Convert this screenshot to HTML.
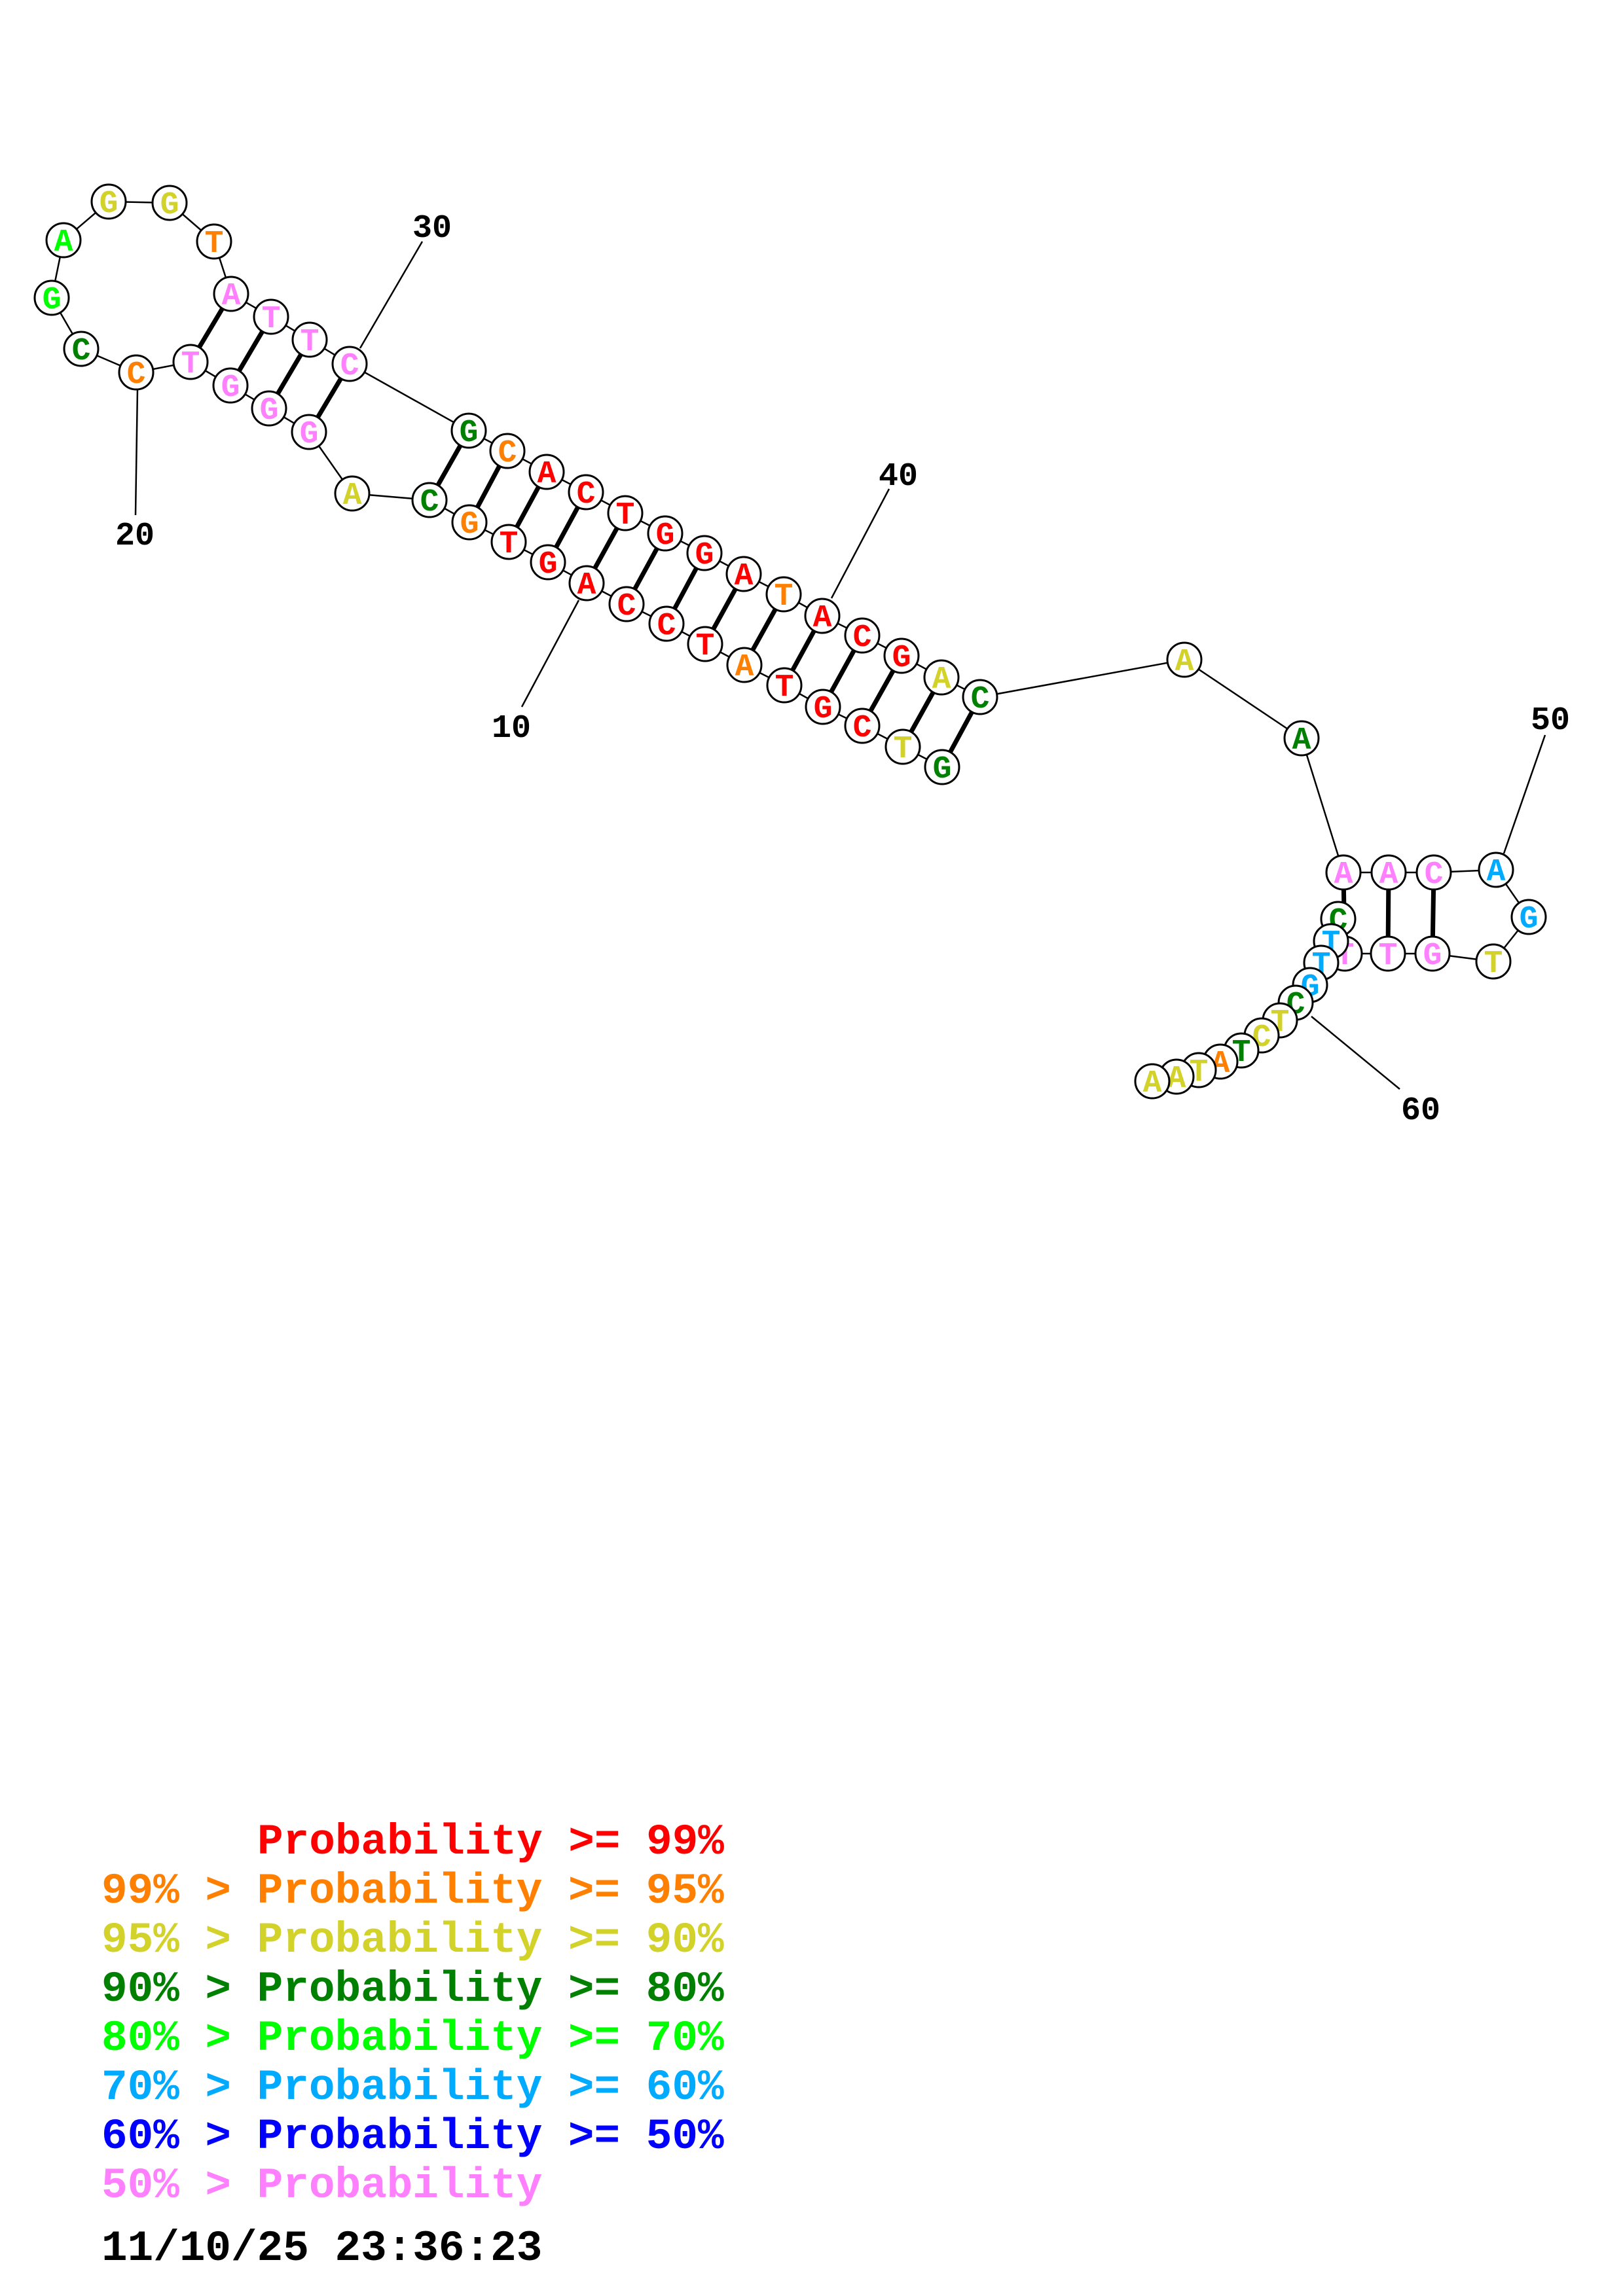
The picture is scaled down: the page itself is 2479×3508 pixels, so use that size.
<!DOCTYPE html>
<html><head><meta charset="utf-8"><style>html,body{margin:0;padding:0;background:#fff}svg{display:block}</style></head>
<body>
<svg xmlns="http://www.w3.org/2000/svg" width="2479" height="3508" viewBox="0 0 2479 3508">
<rect width="2479" height="3508" fill="#fff"/>
<g stroke="#000" stroke-width="2.5" fill="none">
<polyline points="1439,1172 1379,1141 1317,1109 1257,1080 1198,1047 1137,1016 1077,984 1018,953 957,923 896,891 837,859 777,828 717,798 656,764 538,754 472,660 411,624 352,589 291,553 208,569 124,533 79,455 97,367 166,308 259,310 327,369 353,449 414,484 473,519 534,556 716,658 775,689 835,721 895,752 955,784 1016,815 1076,845 1136,877 1197,908 1256,941 1317,971 1377,1002 1438,1035 1497,1065 1809,1008 1988,1128 2052,1333 2121,1333 2190,1333 2285,1329 2335,1401 2281,1469 2188,1457 2120,1457 2054,1457 2044,1404 2033,1438 2018,1471 2001,1505 1979,1532 1955,1559 1927,1582 1896,1605 1864,1622 1831,1635 1797,1645 1760,1652"/>
<line x1="550" y1="532" x2="645" y2="369"/>
<line x1="210" y1="594" x2="207" y2="787"/>
<line x1="884" y1="917" x2="797" y2="1080"/>
<line x1="1270" y1="914" x2="1358" y2="747"/>
<line x1="2297" y1="1304" x2="2360" y2="1123"/>
<line x1="2003" y1="1553" x2="2138" y2="1664"/>
</g>
<g stroke="#000" stroke-width="7">
<line x1="1439" y1="1172" x2="1497" y2="1065"/>
<line x1="1379" y1="1141" x2="1438" y2="1035"/>
<line x1="1317" y1="1109" x2="1377" y2="1002"/>
<line x1="1257" y1="1080" x2="1317" y2="971"/>
<line x1="1198" y1="1047" x2="1256" y2="941"/>
<line x1="1137" y1="1016" x2="1197" y2="908"/>
<line x1="1077" y1="984" x2="1136" y2="877"/>
<line x1="1018" y1="953" x2="1076" y2="845"/>
<line x1="957" y1="923" x2="1016" y2="815"/>
<line x1="896" y1="891" x2="955" y2="784"/>
<line x1="837" y1="859" x2="895" y2="752"/>
<line x1="777" y1="828" x2="835" y2="721"/>
<line x1="717" y1="798" x2="775" y2="689"/>
<line x1="656" y1="764" x2="716" y2="658"/>
<line x1="472" y1="660" x2="534" y2="556"/>
<line x1="411" y1="624" x2="473" y2="519"/>
<line x1="352" y1="589" x2="414" y2="484"/>
<line x1="291" y1="553" x2="353" y2="449"/>
<line x1="2052" y1="1333" x2="2054" y2="1457"/>
<line x1="2121" y1="1333" x2="2120" y2="1457"/>
<line x1="2190" y1="1333" x2="2188" y2="1457"/>
</g>
<g font-family="Liberation Mono, monospace" font-weight="bold" font-size="48" text-anchor="middle" stroke="#000" stroke-width="3">
<g><circle cx="1439" cy="1172" r="26" fill="#fff"/><text x="1439" y="1188" fill="#008000" stroke="none">G</text></g>
<g><circle cx="1379" cy="1141" r="26" fill="#fff"/><text x="1379" y="1157" fill="#d2d22a" stroke="none">T</text></g>
<g><circle cx="1317" cy="1109" r="26" fill="#fff"/><text x="1317" y="1125" fill="#ff0000" stroke="none">C</text></g>
<g><circle cx="1257" cy="1080" r="26" fill="#fff"/><text x="1257" y="1096" fill="#ff0000" stroke="none">G</text></g>
<g><circle cx="1198" cy="1047" r="26" fill="#fff"/><text x="1198" y="1063" fill="#ff0000" stroke="none">T</text></g>
<g><circle cx="1137" cy="1016" r="26" fill="#fff"/><text x="1137" y="1032" fill="#ff8000" stroke="none">A</text></g>
<g><circle cx="1077" cy="984" r="26" fill="#fff"/><text x="1077" y="1000" fill="#ff0000" stroke="none">T</text></g>
<g><circle cx="1018" cy="953" r="26" fill="#fff"/><text x="1018" y="969" fill="#ff0000" stroke="none">C</text></g>
<g><circle cx="957" cy="923" r="26" fill="#fff"/><text x="957" y="939" fill="#ff0000" stroke="none">C</text></g>
<g><circle cx="896" cy="891" r="26" fill="#fff"/><text x="896" y="907" fill="#ff0000" stroke="none">A</text></g>
<g><circle cx="837" cy="859" r="26" fill="#fff"/><text x="837" y="875" fill="#ff0000" stroke="none">G</text></g>
<g><circle cx="777" cy="828" r="26" fill="#fff"/><text x="777" y="844" fill="#ff0000" stroke="none">T</text></g>
<g><circle cx="717" cy="798" r="26" fill="#fff"/><text x="717" y="814" fill="#ff8000" stroke="none">G</text></g>
<g><circle cx="656" cy="764" r="26" fill="#fff"/><text x="656" y="780" fill="#008000" stroke="none">C</text></g>
<g><circle cx="538" cy="754" r="26" fill="#fff"/><text x="538" y="770" fill="#d2d22a" stroke="none">A</text></g>
<g><circle cx="472" cy="660" r="26" fill="#fff"/><text x="472" y="676" fill="#ff80ff" stroke="none">G</text></g>
<g><circle cx="411" cy="624" r="26" fill="#fff"/><text x="411" y="640" fill="#ff80ff" stroke="none">G</text></g>
<g><circle cx="352" cy="589" r="26" fill="#fff"/><text x="352" y="605" fill="#ff80ff" stroke="none">G</text></g>
<g><circle cx="291" cy="553" r="26" fill="#fff"/><text x="291" y="569" fill="#ff80ff" stroke="none">T</text></g>
<g><circle cx="208" cy="569" r="26" fill="#fff"/><text x="208" y="585" fill="#ff8000" stroke="none">C</text></g>
<g><circle cx="124" cy="533" r="26" fill="#fff"/><text x="124" y="549" fill="#008000" stroke="none">C</text></g>
<g><circle cx="79" cy="455" r="26" fill="#fff"/><text x="79" y="471" fill="#00ff00" stroke="none">G</text></g>
<g><circle cx="97" cy="367" r="26" fill="#fff"/><text x="97" y="383" fill="#00ff00" stroke="none">A</text></g>
<g><circle cx="166" cy="308" r="26" fill="#fff"/><text x="166" y="324" fill="#d2d22a" stroke="none">G</text></g>
<g><circle cx="259" cy="310" r="26" fill="#fff"/><text x="259" y="326" fill="#d2d22a" stroke="none">G</text></g>
<g><circle cx="327" cy="369" r="26" fill="#fff"/><text x="327" y="385" fill="#ff8000" stroke="none">T</text></g>
<g><circle cx="353" cy="449" r="26" fill="#fff"/><text x="353" y="465" fill="#ff80ff" stroke="none">A</text></g>
<g><circle cx="414" cy="484" r="26" fill="#fff"/><text x="414" y="500" fill="#ff80ff" stroke="none">T</text></g>
<g><circle cx="473" cy="519" r="26" fill="#fff"/><text x="473" y="535" fill="#ff80ff" stroke="none">T</text></g>
<g><circle cx="534" cy="556" r="26" fill="#fff"/><text x="534" y="572" fill="#ff80ff" stroke="none">C</text></g>
<g><circle cx="716" cy="658" r="26" fill="#fff"/><text x="716" y="674" fill="#008000" stroke="none">G</text></g>
<g><circle cx="775" cy="689" r="26" fill="#fff"/><text x="775" y="705" fill="#ff8000" stroke="none">C</text></g>
<g><circle cx="835" cy="721" r="26" fill="#fff"/><text x="835" y="737" fill="#ff0000" stroke="none">A</text></g>
<g><circle cx="895" cy="752" r="26" fill="#fff"/><text x="895" y="768" fill="#ff0000" stroke="none">C</text></g>
<g><circle cx="955" cy="784" r="26" fill="#fff"/><text x="955" y="800" fill="#ff0000" stroke="none">T</text></g>
<g><circle cx="1016" cy="815" r="26" fill="#fff"/><text x="1016" y="831" fill="#ff0000" stroke="none">G</text></g>
<g><circle cx="1076" cy="845" r="26" fill="#fff"/><text x="1076" y="861" fill="#ff0000" stroke="none">G</text></g>
<g><circle cx="1136" cy="877" r="26" fill="#fff"/><text x="1136" y="893" fill="#ff0000" stroke="none">A</text></g>
<g><circle cx="1197" cy="908" r="26" fill="#fff"/><text x="1197" y="924" fill="#ff8000" stroke="none">T</text></g>
<g><circle cx="1256" cy="941" r="26" fill="#fff"/><text x="1256" y="957" fill="#ff0000" stroke="none">A</text></g>
<g><circle cx="1317" cy="971" r="26" fill="#fff"/><text x="1317" y="987" fill="#ff0000" stroke="none">C</text></g>
<g><circle cx="1377" cy="1002" r="26" fill="#fff"/><text x="1377" y="1018" fill="#ff0000" stroke="none">G</text></g>
<g><circle cx="1438" cy="1035" r="26" fill="#fff"/><text x="1438" y="1051" fill="#d2d22a" stroke="none">A</text></g>
<g><circle cx="1497" cy="1065" r="26" fill="#fff"/><text x="1497" y="1081" fill="#008000" stroke="none">C</text></g>
<g><circle cx="1809" cy="1008" r="26" fill="#fff"/><text x="1809" y="1024" fill="#d2d22a" stroke="none">A</text></g>
<g><circle cx="1988" cy="1128" r="26" fill="#fff"/><text x="1988" y="1144" fill="#008000" stroke="none">A</text></g>
<g><circle cx="2052" cy="1333" r="26" fill="#fff"/><text x="2052" y="1349" fill="#ff80ff" stroke="none">A</text></g>
<g><circle cx="2121" cy="1333" r="26" fill="#fff"/><text x="2121" y="1349" fill="#ff80ff" stroke="none">A</text></g>
<g><circle cx="2190" cy="1333" r="26" fill="#fff"/><text x="2190" y="1349" fill="#ff80ff" stroke="none">C</text></g>
<g><circle cx="2285" cy="1329" r="26" fill="#fff"/><text x="2285" y="1345" fill="#00aaff" stroke="none">A</text></g>
<g><circle cx="2335" cy="1401" r="26" fill="#fff"/><text x="2335" y="1417" fill="#00aaff" stroke="none">G</text></g>
<g><circle cx="2281" cy="1469" r="26" fill="#fff"/><text x="2281" y="1485" fill="#d2d22a" stroke="none">T</text></g>
<g><circle cx="2188" cy="1457" r="26" fill="#fff"/><text x="2188" y="1473" fill="#ff80ff" stroke="none">G</text></g>
<g><circle cx="2120" cy="1457" r="26" fill="#fff"/><text x="2120" y="1473" fill="#ff80ff" stroke="none">T</text></g>
<g><circle cx="2054" cy="1457" r="26" fill="#fff"/><text x="2054" y="1473" fill="#ff80ff" stroke="none">T</text></g>
<g><circle cx="2044" cy="1404" r="26" fill="#fff"/><text x="2044" y="1420" fill="#008000" stroke="none">C</text></g>
<g><circle cx="2033" cy="1438" r="26" fill="#fff"/><text x="2033" y="1454" fill="#00aaff" stroke="none">T</text></g>
<g><circle cx="2018" cy="1471" r="26" fill="#fff"/><text x="2018" y="1487" fill="#00aaff" stroke="none">T</text></g>
<g><circle cx="2001" cy="1505" r="26" fill="#fff"/><text x="2001" y="1521" fill="#00aaff" stroke="none">G</text></g>
<g><circle cx="1979" cy="1532" r="26" fill="#fff"/><text x="1979" y="1548" fill="#008000" stroke="none">C</text></g>
<g><circle cx="1955" cy="1559" r="26" fill="#fff"/><text x="1955" y="1575" fill="#d2d22a" stroke="none">T</text></g>
<g><circle cx="1927" cy="1582" r="26" fill="#fff"/><text x="1927" y="1598" fill="#d2d22a" stroke="none">C</text></g>
<g><circle cx="1896" cy="1605" r="26" fill="#fff"/><text x="1896" y="1621" fill="#008000" stroke="none">T</text></g>
<g><circle cx="1864" cy="1622" r="26" fill="#fff"/><text x="1864" y="1638" fill="#ff8000" stroke="none">A</text></g>
<g><circle cx="1831" cy="1635" r="26" fill="#fff"/><text x="1831" y="1651" fill="#d2d22a" stroke="none">T</text></g>
<g><circle cx="1797" cy="1645" r="26" fill="#fff"/><text x="1797" y="1661" fill="#d2d22a" stroke="none">A</text></g>
<g><circle cx="1760" cy="1652" r="26" fill="#fff"/><text x="1760" y="1668" fill="#d2d22a" stroke="none">A</text></g>
</g>
<g font-family="Liberation Mono, monospace" font-weight="bold" font-size="50" text-anchor="middle" fill="#000">
<text x="660" y="362">30</text>
<text x="206" y="832">20</text>
<text x="781" y="1126">10</text>
<text x="1372" y="741">40</text>
<text x="2368" y="1114">50</text>
<text x="2170" y="1710">60</text>
</g>
<g font-family="Liberation Mono, monospace" font-weight="bold" font-size="66">
<text x="393" y="2832" fill="#ff0000">Probability &gt;= 99%</text>
<text x="155" y="2907" fill="#ff8000">99% &gt; Probability &gt;= 95%</text>
<text x="155" y="2982" fill="#d2d22a">95% &gt; Probability &gt;= 90%</text>
<text x="155" y="3057" fill="#008000">90% &gt; Probability &gt;= 80%</text>
<text x="155" y="3132" fill="#00ff00">80% &gt; Probability &gt;= 70%</text>
<text x="155" y="3207" fill="#00aaff">70% &gt; Probability &gt;= 60%</text>
<text x="155" y="3282" fill="#0000ff">60% &gt; Probability &gt;= 50%</text>
<text x="155" y="3357" fill="#ff80ff">50% &gt; Probability</text>
<text x="155" y="3453" fill="#000">11/10/25 23:36:23</text>
</g>
</svg>
</body></html>
